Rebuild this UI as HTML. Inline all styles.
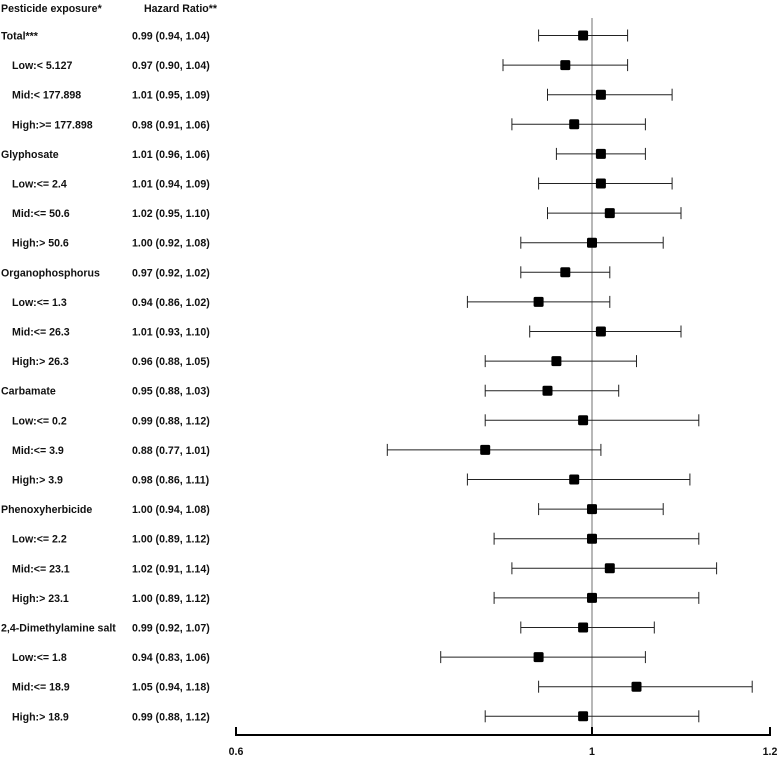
<!DOCTYPE html>
<html><head><meta charset="utf-8"><style>
body{margin:0;background:#fff;}
svg text{font-family:"Liberation Sans",Arial,sans-serif;font-weight:bold;font-size:10.6px;fill:#111;}
</style></head><body>
<svg id="chart" width="777" height="757" xmlns="http://www.w3.org/2000/svg">
<text x="1" y="12">Pesticide exposure*</text>
<text x="144" y="12">Hazard Ratio**</text>
<g id="rows"></g>
<g id="axis"></g>
</svg>
<script>
const labels=["Total***","Low:< 5.127","Mid:< 177.898","High:>= 177.898","Glyphosate","Low:<= 2.4","Mid:<= 50.6","High:> 50.6","Organophosphorus","Low:<= 1.3","Mid:<= 26.3","High:> 26.3","Carbamate","Low:<= 0.2","Mid:<= 3.9","High:> 3.9","Phenoxyherbicide","Low:<= 2.2","Mid:<= 23.1","High:> 23.1","2,4-Dimethylamine salt","Low:<= 1.8","Mid:<= 18.9","High:> 18.9"];
const hr=[0.99,0.97,1.01,0.98,1.01,1.01,1.02,1.00,0.97,0.94,1.01,0.96,0.95,0.99,0.88,0.98,1.00,1.00,1.02,1.00,0.99,0.94,1.05,0.99];
const lo=[0.94,0.90,0.95,0.91,0.96,0.94,0.95,0.92,0.92,0.86,0.93,0.88,0.88,0.88,0.77,0.86,0.94,0.89,0.91,0.89,0.92,0.83,0.94,0.88];
const hi=[1.04,1.04,1.09,1.06,1.06,1.09,1.10,1.08,1.02,1.02,1.10,1.05,1.03,1.12,1.01,1.11,1.08,1.12,1.14,1.12,1.07,1.06,1.18,1.12];
const ticks=[0.6,1,1.2];
const NS="http://www.w3.org/2000/svg";
const xS=v=>236+(v-0.6)/0.6*534;
const yS=i=>35.5+i*29.6;
function mk(tag,attrs,parent){const e=document.createElementNS(NS,tag);for(const k in attrs)e.setAttribute(k,attrs[k]);parent.appendChild(e);return e;}
const svg=document.getElementById('chart'),rows=document.getElementById('rows'),axis=document.getElementById('axis');
const ref=mk('line',{x1:xS(1),x2:xS(1),y1:18,y2:735,stroke:'#888','stroke-width':1.2},rows);


labels.forEach((l,i)=>{
 const y=yS(i);const sub=l.startsWith("Low")||l.startsWith("Mid")||l.startsWith("High");
 const t=mk('text',{x:sub?12:1,y:y+4},rows);t.textContent=l;
 
 
 const v=mk('text',{x:132,y:y+4},rows);v.textContent=hr[i].toFixed(2)+" ("+lo[i].toFixed(2)+", "+hi[i].toFixed(2)+")";
 
 
 const g=mk('g',{stroke:'#222','stroke-width':1},rows);
 
 
 mk('line',{x1:xS(lo[i]),x2:xS(hi[i]),y1:y,y2:y},g);
 mk('line',{x1:xS(lo[i]),x2:xS(lo[i]),y1:y-6,y2:y+6},g);
 mk('line',{x1:xS(hi[i]),x2:xS(hi[i]),y1:y-6,y2:y+6},g);
 const s=mk('rect',{x:xS(hr[i])-5,y:y-5,width:10,height:10,rx:1.5,fill:'#000'},rows);
 
 
});
const al=mk('line',{x1:xS(0.6),x2:xS(1.2),y1:735,y2:735,stroke:'#000','stroke-width':2},axis);


ticks.forEach(t=>{
 const tk=mk('line',{x1:xS(t),x2:xS(t),y1:727,y2:736,stroke:'#000','stroke-width':2},axis);
 
 
 const tl=mk('text',{x:xS(t),y:755,'text-anchor':'middle'},axis);tl.textContent=String(t);
 
 
});
</script>
</body></html>
